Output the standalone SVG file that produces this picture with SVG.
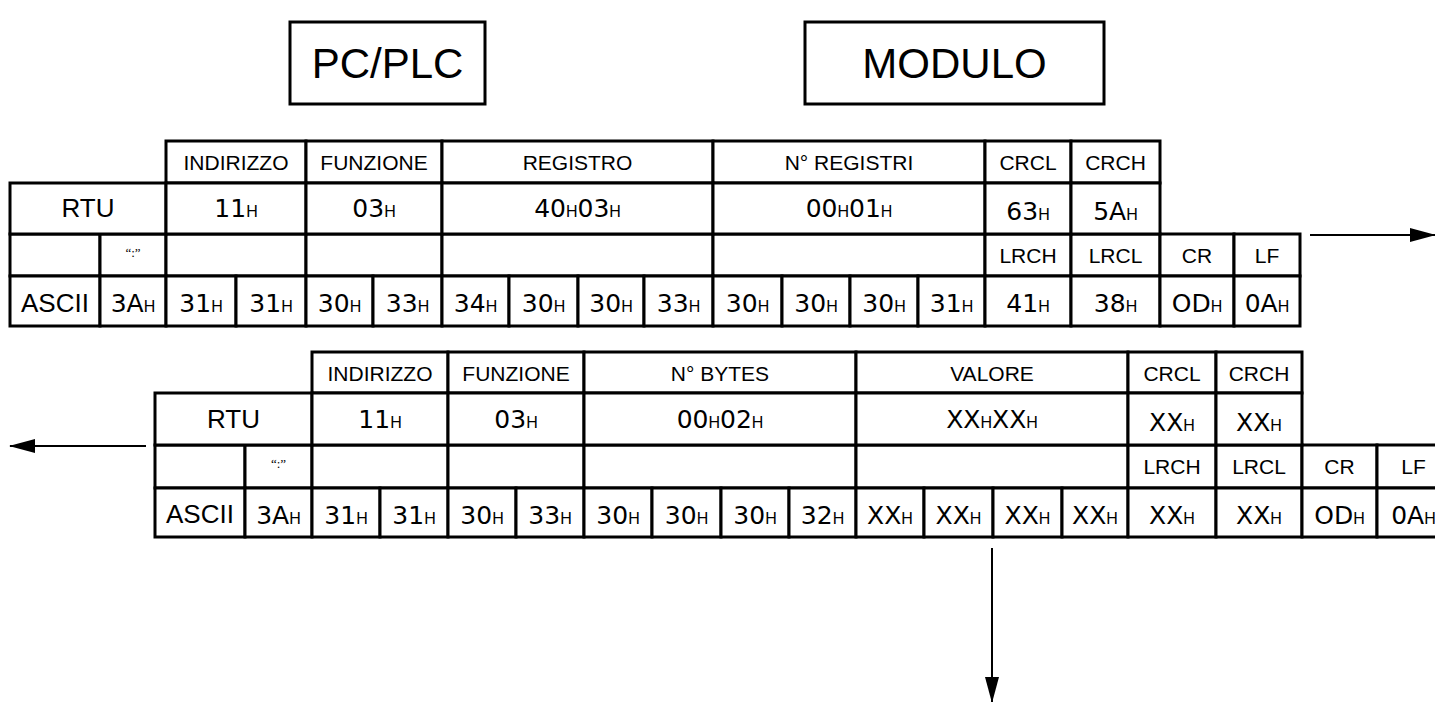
<svg xmlns="http://www.w3.org/2000/svg" width="1435" height="702" viewBox="0 0 1435 702">
<style>
.c{fill:#fff;stroke:#000;stroke-width:3}
.lbl{font-family:"Liberation Sans",Arial,sans-serif;font-size:21px;text-anchor:middle;fill:#000}
.big{font-family:"Liberation Sans",Arial,sans-serif;font-size:26px;text-anchor:middle;fill:#000}
.ttl{font-family:"Liberation Sans",Arial,sans-serif;font-size:42px;text-anchor:middle;fill:#000}
.v{font-family:"DejaVu Sans",Verdana,sans-serif;font-size:25px;text-anchor:middle;fill:#000}
.h{font-family:"Liberation Sans",Arial,sans-serif;font-size:16px}
.col{font-family:"Liberation Serif","Times New Roman",serif;font-size:13px;text-anchor:middle;fill:#000}
.conn{stroke:#000;stroke-width:2;fill:none}
</style>
<defs>
<marker id="ah" markerUnits="userSpaceOnUse" markerWidth="26" markerHeight="16" refX="25" refY="8" orient="auto">
<path d="M0,1 L26,8 L0,15 Z" fill="#000"/>
</marker>
</defs>
<rect width="1435" height="702" fill="#fff"/>

<g id="pcplc">
<rect class="c" x="290" y="22" width="195" height="82"/>
<text class="ttl" x="387.5" y="78">PC/PLC</text>
</g>
<g id="modulo">
<rect class="c" x="805" y="22" width="299" height="82"/>
<text class="ttl" x="954.5" y="78">MODULO</text>
</g>

<g id="request">
<g id="req-header">
<rect class="c" x="166" y="141" width="140" height="42"/><text class="lbl" x="236" y="170">INDIRIZZO</text>
<rect class="c" x="306" y="141" width="136" height="42"/><text class="lbl" x="374" y="170">FUNZIONE</text>
<rect class="c" x="442" y="141" width="271" height="42"/><text class="lbl" x="577.5" y="170">REGISTRO</text>
<rect class="c" x="713" y="141" width="272" height="42"/><text class="lbl" x="849" y="170">N° REGISTRI</text>
<rect class="c" x="985" y="141" width="86" height="42"/><text class="lbl" x="1028" y="170">CRCL</text>
<rect class="c" x="1071" y="141" width="89" height="42"/><text class="lbl" x="1115.5" y="170">CRCH</text>
</g>
<g id="req-colon">
<rect class="c" x="10" y="234" width="90" height="42"/>
<rect class="c" x="100" y="234" width="66" height="42"/><text class="col" x="133" y="257">“:”</text>
<rect class="c" x="166" y="234" width="140" height="42"/>
<rect class="c" x="306" y="234" width="136" height="42"/>
<rect class="c" x="442" y="234" width="271" height="42"/>
<rect class="c" x="713" y="234" width="272" height="42"/>
<rect class="c" x="985" y="234" width="86" height="42"/><text class="lbl" x="1028" y="263">LRCH</text>
<rect class="c" x="1071" y="234" width="89" height="42"/><text class="lbl" x="1115.5" y="263">LRCL</text>
<rect class="c" x="1160" y="234" width="74" height="42"/><text class="lbl" x="1197" y="263">CR</text>
<rect class="c" x="1234" y="234" width="66" height="42"/><text class="lbl" x="1267" y="263">LF</text>
</g>
<g id="req-rtu">
<rect class="c" x="10" y="183" width="156" height="51"/><text class="big" x="88" y="217">RTU</text>
<rect class="c" x="166" y="183" width="140" height="51"/><text class="v" x="236" y="217">11<tspan class="h">H</tspan></text>
<rect class="c" x="306" y="183" width="136" height="51"/><text class="v" x="374" y="217">03<tspan class="h">H</tspan></text>
<rect class="c" x="442" y="183" width="271" height="51"/><text class="v" x="577.5" y="217">40<tspan class="h">H</tspan>03<tspan class="h">H</tspan></text>
<rect class="c" x="713" y="183" width="272" height="51"/><text class="v" x="849" y="217">00<tspan class="h">H</tspan>01<tspan class="h">H</tspan></text>
<rect class="c" x="985" y="183" width="86" height="51"/><text class="v" x="1028" y="220">63<tspan class="h">H</tspan></text>
<rect class="c" x="1071" y="183" width="89" height="51"/><text class="v" x="1115.5" y="220">5A<tspan class="h">H</tspan></text>
</g>
<g id="req-ascii">
<rect class="c" x="10" y="276" width="90" height="50"/><text class="big" x="55" y="312">ASCII</text>
<rect class="c" x="100" y="276" width="66" height="50"/><text class="v" x="133" y="312">3A<tspan class="h">H</tspan></text>
<rect class="c" x="166" y="276" width="70" height="50"/><text class="v" x="201" y="312">31<tspan class="h">H</tspan></text>
<rect class="c" x="236" y="276" width="70" height="50"/><text class="v" x="271" y="312">31<tspan class="h">H</tspan></text>
<rect class="c" x="306" y="276" width="67" height="50"/><text class="v" x="339.5" y="312">30<tspan class="h">H</tspan></text>
<rect class="c" x="373" y="276" width="69" height="50"/><text class="v" x="407.5" y="312">33<tspan class="h">H</tspan></text>
<rect class="c" x="442" y="276" width="67" height="50"/><text class="v" x="475.5" y="312">34<tspan class="h">H</tspan></text>
<rect class="c" x="509" y="276" width="69" height="50"/><text class="v" x="543.5" y="312">30<tspan class="h">H</tspan></text>
<rect class="c" x="578" y="276" width="66" height="50"/><text class="v" x="611" y="312">30<tspan class="h">H</tspan></text>
<rect class="c" x="644" y="276" width="69" height="50"/><text class="v" x="678.5" y="312">33<tspan class="h">H</tspan></text>
<rect class="c" x="713" y="276" width="69" height="50"/><text class="v" x="747.5" y="312">30<tspan class="h">H</tspan></text>
<rect class="c" x="782" y="276" width="68" height="50"/><text class="v" x="816" y="312">30<tspan class="h">H</tspan></text>
<rect class="c" x="850" y="276" width="68" height="50"/><text class="v" x="884" y="312">30<tspan class="h">H</tspan></text>
<rect class="c" x="918" y="276" width="67" height="50"/><text class="v" x="951.5" y="312">31<tspan class="h">H</tspan></text>
<rect class="c" x="985" y="276" width="86" height="50"/><text class="v" x="1028" y="312">41<tspan class="h">H</tspan></text>
<rect class="c" x="1071" y="276" width="89" height="50"/><text class="v" x="1115.5" y="312">38<tspan class="h">H</tspan></text>
<rect class="c" x="1160" y="276" width="74" height="50"/><text class="v" x="1197" y="312">OD<tspan class="h">H</tspan></text>
<rect class="c" x="1234" y="276" width="66" height="50"/><text class="v" x="1267" y="312">0A<tspan class="h">H</tspan></text>
</g>
</g>

<g id="response">
<g id="res-header">
<rect class="c" x="312" y="352" width="136" height="41"/><text class="lbl" x="380" y="381">INDIRIZZO</text>
<rect class="c" x="448" y="352" width="136" height="41"/><text class="lbl" x="516" y="381">FUNZIONE</text>
<rect class="c" x="584" y="352" width="272" height="41"/><text class="lbl" x="720" y="381">N° BYTES</text>
<rect class="c" x="856" y="352" width="272" height="41"/><text class="lbl" x="992" y="381">VALORE</text>
<rect class="c" x="1128" y="352" width="88" height="41"/><text class="lbl" x="1172" y="381">CRCL</text>
<rect class="c" x="1216" y="352" width="86" height="41"/><text class="lbl" x="1259" y="381">CRCH</text>
</g>
<g id="res-colon">
<rect class="c" x="155" y="445" width="90" height="43"/>
<rect class="c" x="245" y="445" width="67" height="43"/><text class="col" x="278.5" y="468">“:”</text>
<rect class="c" x="312" y="445" width="136" height="43"/>
<rect class="c" x="448" y="445" width="136" height="43"/>
<rect class="c" x="584" y="445" width="272" height="43"/>
<rect class="c" x="856" y="445" width="272" height="43"/>
<rect class="c" x="1128" y="445" width="88" height="43"/><text class="lbl" x="1172" y="474">LRCH</text>
<rect class="c" x="1216" y="445" width="86" height="43"/><text class="lbl" x="1259" y="474">LRCL</text>
<rect class="c" x="1302" y="445" width="75" height="43"/><text class="lbl" x="1339.5" y="474">CR</text>
<rect class="c" x="1377" y="445" width="73" height="43"/><text class="lbl" x="1413.5" y="474">LF</text>
</g>
<g id="res-rtu">
<rect class="c" x="155" y="393" width="157" height="52"/><text class="big" x="233.5" y="428">RTU</text>
<rect class="c" x="312" y="393" width="136" height="52"/><text class="v" x="380" y="428">11<tspan class="h">H</tspan></text>
<rect class="c" x="448" y="393" width="136" height="52"/><text class="v" x="516" y="428">03<tspan class="h">H</tspan></text>
<rect class="c" x="584" y="393" width="272" height="52"/><text class="v" x="720" y="428">00<tspan class="h">H</tspan>02<tspan class="h">H</tspan></text>
<rect class="c" x="856" y="393" width="272" height="52"/><text class="v" x="992" y="428">XX<tspan class="h">H</tspan>XX<tspan class="h">H</tspan></text>
<rect class="c" x="1128" y="393" width="88" height="52"/><text class="v" x="1172" y="431">XX<tspan class="h">H</tspan></text>
<rect class="c" x="1216" y="393" width="86" height="52"/><text class="v" x="1259" y="431">XX<tspan class="h">H</tspan></text>
</g>
<g id="res-ascii">
<rect class="c" x="155" y="488" width="90" height="49"/><text class="big" x="200" y="523">ASCII</text>
<rect class="c" x="245" y="488" width="67" height="49"/><text class="v" x="278.5" y="524">3A<tspan class="h">H</tspan></text>
<rect class="c" x="312" y="488" width="68" height="49"/><text class="v" x="346" y="524">31<tspan class="h">H</tspan></text>
<rect class="c" x="380" y="488" width="68" height="49"/><text class="v" x="414" y="524">31<tspan class="h">H</tspan></text>
<rect class="c" x="448" y="488" width="68" height="49"/><text class="v" x="482" y="524">30<tspan class="h">H</tspan></text>
<rect class="c" x="516" y="488" width="68" height="49"/><text class="v" x="550" y="524">33<tspan class="h">H</tspan></text>
<rect class="c" x="584" y="488" width="68" height="49"/><text class="v" x="618" y="524">30<tspan class="h">H</tspan></text>
<rect class="c" x="652" y="488" width="69" height="49"/><text class="v" x="686.5" y="524">30<tspan class="h">H</tspan></text>
<rect class="c" x="721" y="488" width="68" height="49"/><text class="v" x="755" y="524">30<tspan class="h">H</tspan></text>
<rect class="c" x="789" y="488" width="67" height="49"/><text class="v" x="822.5" y="524">32<tspan class="h">H</tspan></text>
<rect class="c" x="856" y="488" width="68" height="49"/><text class="v" x="890" y="524">XX<tspan class="h">H</tspan></text>
<rect class="c" x="924" y="488" width="69" height="49"/><text class="v" x="958.5" y="524">XX<tspan class="h">H</tspan></text>
<rect class="c" x="993" y="488" width="69" height="49"/><text class="v" x="1027.5" y="524">XX<tspan class="h">H</tspan></text>
<rect class="c" x="1062" y="488" width="66" height="49"/><text class="v" x="1095" y="524">XX<tspan class="h">H</tspan></text>
<rect class="c" x="1128" y="488" width="88" height="49"/><text class="v" x="1172" y="524">XX<tspan class="h">H</tspan></text>
<rect class="c" x="1216" y="488" width="86" height="49"/><text class="v" x="1259" y="524">XX<tspan class="h">H</tspan></text>
<rect class="c" x="1302" y="488" width="75" height="49"/><text class="v" x="1339.5" y="524">OD<tspan class="h">H</tspan></text>
<rect class="c" x="1377" y="488" width="73" height="49"/><text class="v" x="1413.5" y="524">0A<tspan class="h">H</tspan></text>
</g>
</g>

<g id="connectors">
<line class="conn" x1="1310" y1="235" x2="1435" y2="235" marker-end="url(#ah)"/>
<line class="conn" x1="146" y1="446" x2="10" y2="446" marker-end="url(#ah)"/>
<line class="conn" x1="992" y1="548" x2="992" y2="702" marker-end="url(#ah)"/>
</g>
</svg>
